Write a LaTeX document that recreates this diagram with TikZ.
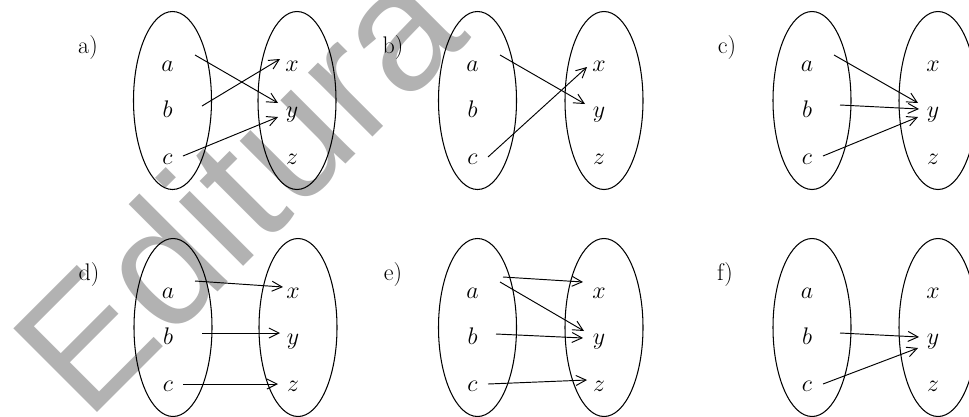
\documentclass[tikz,border=0pt]{standalone}
\usepackage{fix-cm}
\usepackage{fontspec}
\newfontfamily\wmfont{Liberation Sans}
\usetikzlibrary{shapes.geometric,arrows.meta}
\tikzset{
  setbox/.style={draw, ellipse, line width=1.05pt, minimum width=78pt, minimum height=178pt, inner sep=0pt},
  elem/.style={anchor=base, inner sep=0pt, font=\fontsize{24}{28}\selectfont},
  lbl/.style={anchor=base, inner sep=0pt, font=\fontsize{24}{28}\selectfont},
  arr/.style={line width=0.95pt, -{Straight Barb[length=10pt,width=10pt]}},
  wm/.style={anchor=base west, rotate=45, inner sep=0pt, text=black!30, font=\wmfont\fontsize{172}{172}\selectfont}
}
\begin{document}
\begin{tikzpicture}[x=1pt,y=-1pt]
\useasboundingbox (0,0) rectangle (969,416);
\clip (0,0) rectangle (969,416);
\node[wm] (wm) at (87,423) {Editura};
\foreach \p/\cl/\cr/\dy in {A/172.5/297/0, B/477.5/604/0, C/812/938/0, D/173/298/227, E/477.5/604/227, F/812/938/227}{
  \node[setbox] (\p-L) at (\cl,100.5+\dy) {};
  \node[setbox] (\p-R) at (\cr,100.5+\dy) {};
  \node[elem] (\p-a) at (\cl-5,71+\dy) {$a$};
  \node[elem] (\p-b) at (\cl-5,117.5+\dy) {$b$};
  \node[elem] (\p-c) at (\cl-5,164+\dy) {$c$};
  \node[elem] (\p-x) at (\cr-5,71+\dy) {$x$};
  \node[elem] (\p-y) at (\cr-5,117.5+\dy) {$y$};
  \node[elem] (\p-z) at (\cr-5,164+\dy) {$z$};
}
% labels
\node[lbl] (la) at (88,53) {a)};
\node[lbl] (lb) at (393,53) {b)};
\node[lbl] (lc) at (727,53) {c)};
\node[lbl] (ld) at (89,280) {d)};
\node[lbl] (le) at (393,280) {e)};
\node[lbl] (lf) at (725,280) {f)};
% panel a
\draw[arr] ([shift={(27.5,-16)}]A-a.base) -- ([shift={(-14,-14.5)}]A-y.base);
\draw[arr] ([shift={(34.5,-11.5)}]A-b.base) -- ([shift={(-12,-12)}]A-x.base);
\draw[arr] ([shift={(15.5,-8)}]A-c.base) -- ([shift={(-14,-0.5)}]A-y.base);
% panel b
\draw[arr] ([shift={(27.5,-16)}]B-a.base) -- ([shift={(-14,-13.5)}]B-y.base);
\draw[arr] ([shift={(15.5,-7)}]B-c.base) -- ([shift={(-12,-4)}]B-x.base);
% panel c
\draw[arr] ([shift={(27,-16)}]C-a.base) -- ([shift={(-15,-14.5)}]C-y.base);
\draw[arr] ([shift={(33,-12.5)}]C-b.base) -- ([shift={(-14,-8.5)}]C-y.base);
\draw[arr] ([shift={(16,-8)}]C-c.base) -- ([shift={(-15,-0.5)}]C-y.base);
% panel d
\draw[arr] ([shift={(27,-17)}]D-a.base) -- ([shift={(-10,-11)}]D-x.base);
\draw[arr] ([shift={(34,-11.5)}]D-b.base) -- ([shift={(-13,-11.5)}]D-y.base);
\draw[arr] ([shift={(15,-7)}]D-c.base) -- ([shift={(-15,-7)}]D-z.base);
% panel e
\draw[arr] ([shift={(30.5,-21)}]E-a.base) -- ([shift={(-16,-16)}]E-x.base);
\draw[arr] ([shift={(27.5,-16)}]E-a.base) -- ([shift={(-15,-13.5)}]E-y.base);
\draw[arr] ([shift={(23.5,-10.5)}]E-b.base) -- ([shift={(-16,-6.5)}]E-y.base);
\draw[arr] ([shift={(15.5,-7)}]E-c.base) -- ([shift={(-12,-11)}]E-z.base);
% panel f
\draw[arr] ([shift={(33,-11.5)}]F-b.base) -- ([shift={(-14,-7.5)}]F-y.base);
\draw[arr] ([shift={(16,-7)}]F-c.base) -- ([shift={(-15,3.5)}]F-y.base);
\end{tikzpicture}
\end{document}
